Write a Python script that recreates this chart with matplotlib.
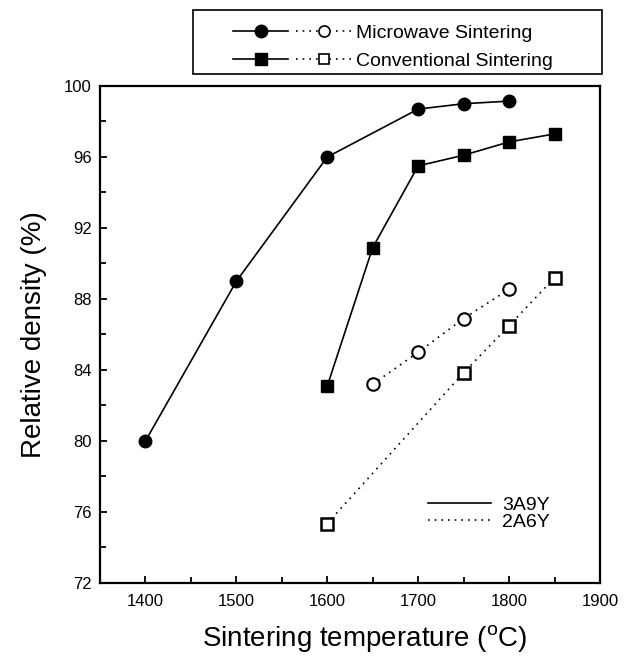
import matplotlib

matplotlib.use("Agg")
import matplotlib.pyplot as plt
from matplotlib.lines import Line2D
from matplotlib.patches import Rectangle
from matplotlib.legend_handler import HandlerTuple

plt.rcParams.update({
    "font.family": ["Liberation Sans", "DejaVu Sans"],
    "mathtext.fontset": "custom",
    "mathtext.rm": "Liberation Sans",
    "font.size": 12,
})

# data
mw_3a9y_t = [1400, 1500, 1600, 1700, 1750, 1800]
mw_3a9y_d = [80.0, 89.0, 96.0, 98.7, 99.0, 99.15]
cv_3a9y_t = [1600, 1650, 1700, 1750, 1800, 1850]
cv_3a9y_d = [83.1, 90.9, 95.5, 96.1, 96.85, 97.3]
mw_2a6y_t = [1650, 1700, 1750, 1800]
mw_2a6y_d = [83.2, 85.0, 86.9, 88.55]
cv_2a6y_t = [1600, 1750, 1800, 1850]
cv_2a6y_d = [75.35, 83.85, 86.5, 89.2]

x_ticks = [1400, 1500, 1600, 1700, 1800, 1900]
y_ticks = [72, 76, 80, 84, 88, 92, 96, 100]

W, H = 626, 657
fig = plt.figure(figsize=(W / 100, H / 100), dpi=100)
ax = fig.add_axes([100 / W, 1 - 583 / H, 500 / W, 497 / H])

lw = 1.2
dot = (0, (1, 3))
ms = 9

ax.plot(mw_3a9y_t, mw_3a9y_d, color="black", lw=lw, marker="o", ms=ms, mfc="black", mec="black")
ax.plot(cv_3a9y_t, cv_3a9y_d, color="black", lw=lw, marker="s", ms=ms - 0.5, mfc="black", mec="black")
ax.plot(mw_2a6y_t, mw_2a6y_d, color="black", lw=lw, ls=dot, marker="o", ms=ms, mfc="white", mec="black", mew=1.5)
ax.plot(cv_2a6y_t, cv_2a6y_d, color="black", lw=lw, ls=dot, marker="s", ms=ms - 1, mfc="white", mec="black", mew=1.8)

ax.set_xlim(1350, 1900)
ax.set_ylim(72, 100)
ax.set_xticks(x_ticks)
ax.set_yticks(y_ticks)
ax.set_xticks(range(1350, 1901, 50), minor=True)
ax.set_yticks(range(72, 101, 2), minor=True)
ax.tick_params(which="both", direction="in", top=False, right=False, width=1.3)
ax.tick_params(which="major", length=5)
ax.tick_params(which="minor", length=4)
ax.tick_params(axis="x", labelsize=12, pad=8)
ax.tick_params(axis="y", labelsize=12, pad=6)
for s in ax.spines.values():
    s.set_linewidth(1.6)

ax.set_xlabel(r"Sintering temperature ($^{\mathrm{o}}$C)", fontsize=20, labelpad=10.5)
ax.xaxis.label.set_x(0.53)
ax.set_ylabel("Relative density (%)", fontsize=20, labelpad=12)

# composition legend inside the axes
comp = [Line2D([], [], color="black", lw=lw), Line2D([], [], color="black", lw=lw, ls=dot)]
ax.legend(comp, ["3A9Y", "2A6Y"], loc="upper left", frameon=False,
          bbox_to_anchor=(428 / W, 1 - 496 / H), bbox_transform=fig.transFigure,
          borderpad=0, borderaxespad=0, handlelength=3.25, handletextpad=0.57,
          labelspacing=0.0, fontsize=14)

# method legend above the axes, in its own box
mw_h = (Line2D([], [], color="black", lw=lw, marker="o", ms=ms, mfc="black"),
        Line2D([], [], color="black", lw=lw, ls=dot, marker="o", ms=ms - 1, mfc="white", mew=1.2))
cv_h = (Line2D([], [], color="black", lw=lw, marker="s", ms=ms - 1, mfc="black"),
        Line2D([], [], color="black", lw=lw, ls=dot, marker="s", ms=ms - 2, mfc="white", mew=1.2))
fig.legend([mw_h, cv_h], ["Microwave Sintering", "Conventional Sintering"],
           handler_map={tuple: HandlerTuple(ndivide=None, pad=0.4)},
           loc="upper left", frameon=False, bbox_to_anchor=(233 / W, 1 - 24 / H),
           borderpad=0, borderaxespad=0, handlelength=6.1, handletextpad=0.2,
           labelspacing=0.55, fontsize=14)
fig.patches.append(Rectangle((193 / W, 1 - 74 / H), 409 / W, 64 / H, transform=fig.transFigure,
                             fill=False, edgecolor="black", lw=1.2))

fig.savefig("out.png", dpi=100)
